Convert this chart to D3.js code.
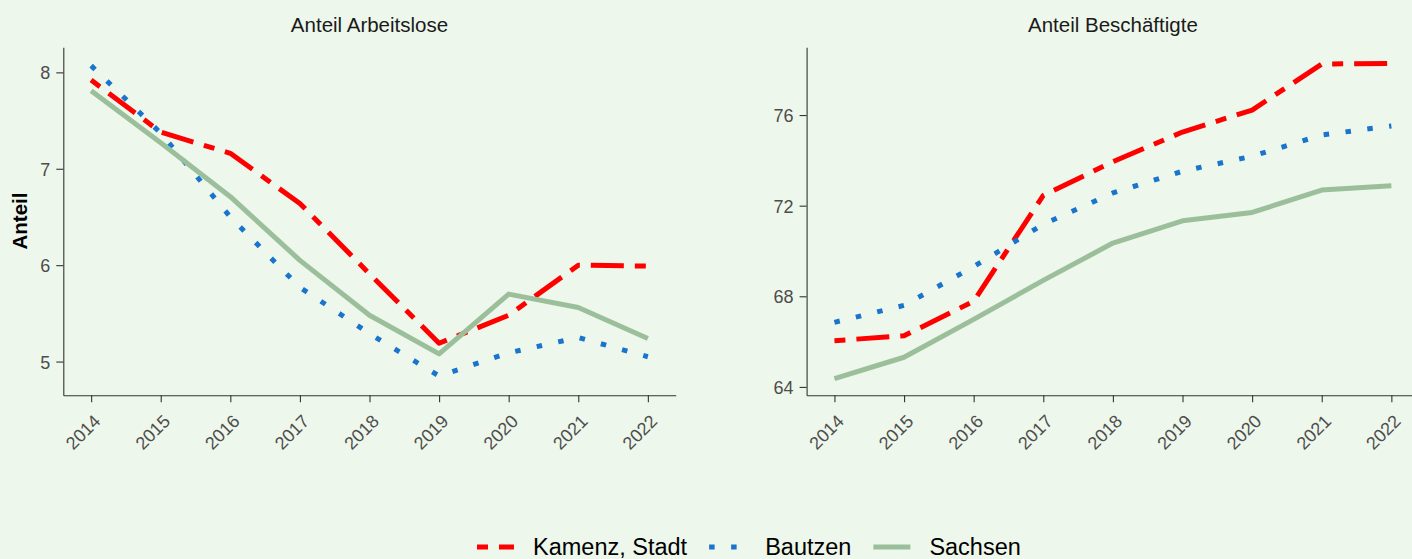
<!DOCTYPE html>
<html lang="de">
<head>
<meta charset="utf-8">
<title>Anteil Arbeitslose / Beschäftigte</title>
<script src="https://cdn.jsdelivr.net/npm/d3@7/dist/d3.min.js"></script>
<style>
body { margin: 0; background: #EDF7EB; }
svg { display: block; font-family: "Liberation Sans", Arial, sans-serif; }
.axis path, .axis line { stroke: #333333; stroke-width: 1.1; }
.axis text { fill: #4D4D4D; font-size: 18px; }
.title { font-size: 20.5px; fill: #1a1a1a; }
.legend text { font-size: 23.5px; fill: #000; }
</style>
</head>
<body>
<svg id="chart" width="1412" height="559"></svg>
<script>

// data
var years = ["2014", "2015", "2016", "2017", "2018", "2019", "2020", "2021", "2022"];

var kamenzArbeitslose  = [7.92, 7.38, 7.16, 6.64, 5.91, 5.19, 5.48, 6.00, 5.99];
var bautzenArbeitslose = [8.07, 7.37, 6.50, 5.77, 5.29, 4.85, 5.09, 5.25, 5.05];
var sachsenArbeitslose = [7.81, 7.27, 6.71, 6.05, 5.48, 5.08, 5.70, 5.56, 5.24];

var kamenzBeschaeftigte  = [66.04, 66.26, 67.78, 72.45, 73.94, 75.25, 76.22, 78.25, 78.28];
var bautzenBeschaeftigte = [66.85, 67.60, 69.31, 71.18, 72.56, 73.52, 74.18, 75.12, 75.52];
var sachsenBeschaeftigte = [64.37, 65.31, 66.98, 68.70, 70.35, 71.33, 71.70, 72.69, 72.88];

var seriesNames = ["Kamenz, Stadt", "Bautzen", "Sachsen"];
var leftTicks = [5, 6, 7, 8];
var rightTicks = [64, 68, 72, 76];
var leftDomain = [4.65, 8.26];
var rightDomain = [63.63, 78.99];

var colors = ["#FF0000", "#1874CD", "#9BBF9B"];
var dashes = ["11,11,33,11", "5.5,16.5", null];

var svg = d3.select("#chart");
var plotTop = 47.3, plotBottom = 395.3;

svg.append("rect")
    .attr("width", 1412).attr("height", 559)
    .attr("fill", "#EDF7EB");

function panel(title, xRange, domain, ticks, values) {
  var x = d3.scalePoint().domain(years).range(xRange).padding(0.4);
  var y = d3.scaleLinear().domain(domain).range([plotBottom, plotTop]);

  var g = svg.append("g");

  g.append("g")
      .attr("class", "axis")
      .attr("transform", "translate(" + xRange[0] + ",0)")
      .call(d3.axisLeft(y).tickValues(ticks).tickFormat(d3.format("d"))
              .tickSize(7).tickPadding(6).tickSizeOuter(0))
    .selectAll("text")
      .attr("dy", "0.36em");

  g.append("g")
      .attr("class", "axis")
      .attr("transform", "translate(0," + plotBottom + ")")
      .call(d3.axisBottom(x).tickSize(7).tickSizeOuter(0))
    .selectAll("text")
      .attr("y", 0)
      .attr("dy", "0.71em")
      .attr("text-anchor", "end")
      .attr("transform", "translate(1,18) rotate(-45)");

  g.selectAll(".axis").attr("font-family", null).attr("font-size", null);

  g.append("text")
      .attr("class", "title")
      .attr("x", (xRange[0] + xRange[1]) / 2)
      .attr("y", 32)
      .attr("text-anchor", "middle")
      .text(title);

  var line = d3.line()
      .x(function(d, i) { return x(years[i]); })
      .y(function(d) { return y(d); });

  values.forEach(function(v, i) {
    g.append("path")
        .datum(v)
        .attr("fill", "none")
        .attr("stroke", colors[i])
        .attr("stroke-width", 5)
        .attr("stroke-linejoin", "round")
        .attr("stroke-linecap", "butt")
        .attr("stroke-dasharray", dashes[i])
        .attr("d", line);
  });
}

panel("Anteil Arbeitslose", [63.3, 675.7], leftDomain, leftTicks,
      [kamenzArbeitslose, bautzenArbeitslose, sachsenArbeitslose]);
panel("Anteil Beschäftigte", [806.6, 1419.2], rightDomain, rightTicks,
      [kamenzBeschaeftigte, bautzenBeschaeftigte, sachsenBeschaeftigte]);

svg.append("text")
    .attr("transform", "translate(27,221) rotate(-90)")
    .attr("text-anchor", "middle")
    .attr("font-weight", "bold")
    .attr("font-size", "20.5px")
    .text("Anteil");

// legend
var legend = svg.append("g").attr("class", "legend");
var lx = 477, keyW = 37;
seriesNames.forEach(function(name, i) {
  legend.append("line")
      .attr("x1", lx).attr("x2", lx + keyW)
      .attr("y1", 547).attr("y2", 547)
      .attr("stroke", colors[i])
      .attr("stroke-width", 5)
      .attr("stroke-dasharray", dashes[i]);
  var t = legend.append("text")
      .attr("x", lx + keyW + 19)
      .attr("y", 555)
      .text(name);
  lx = lx + keyW + 19 + t.node().getComputedTextLength() + 22;
});

</script>
</body>
</html>
